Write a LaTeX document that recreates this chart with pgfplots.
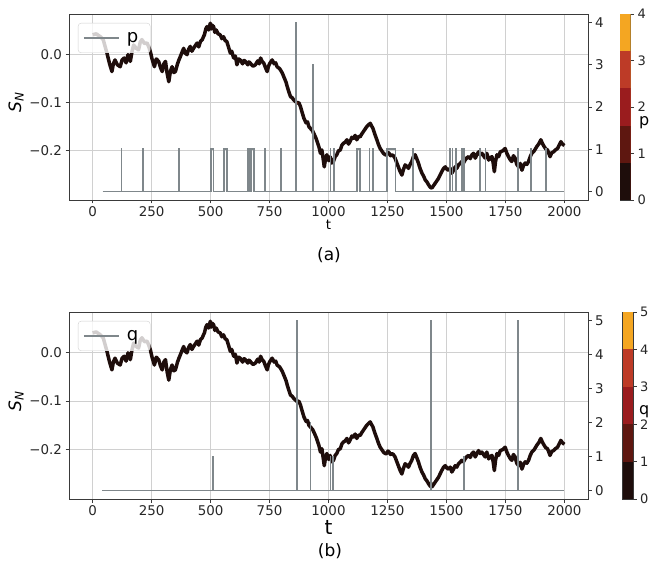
\documentclass[border=0pt]{standalone}
\usepackage{fontspec}
\setmainfont{DejaVu Sans}
\usepackage{pgfplots}
\usepackage{pgfplotstable}
\pgfplotsset{compat=1.18}

\definecolor{cA}{HTML}{1E0D0B}
\definecolor{cB}{HTML}{5E1710}
\definecolor{cC}{HTML}{9A1C1E}
\definecolor{cD}{HTML}{BD3B27}
\definecolor{cE}{HTML}{F4A622}
\definecolor{pgray}{HTML}{7F878B}
\definecolor{gridc}{HTML}{D0D0D0}
\definecolor{spine}{HTML}{3A3A3A}

\pgfplotstableread{
t s
0 0.040
15 0.042
33 0.036
45 0.030
61 0.002
72 -0.020
82 -0.036
88 -0.020
95 -0.012
105 -0.022
117 -0.026
125 -0.012
134 -0.008
142 -0.018
150 -0.001
160 -0.015
167 0.005
174 0.019
185 0.012
195 0.009
202 0.025
209 0.030
220 0.022
231 0.023
238 0.015
245 0.005
252 -0.010
262 -0.026
270 -0.010
280 -0.015
288 -0.028
295 -0.036
302 -0.020
309 -0.015
316 -0.040
323 -0.057
330 -0.035
337 -0.026
344 -0.038
351 -0.036
360 -0.020
366 -0.012
372 -0.005
380 0.005
386 0.012
393 0.002
400 -0.001
407 0.010
414 0.016
421 0.006
428 0.012
436 0.018
443 0.023
450 0.015
457 0.026
465 0.030
470 0.036
474 0.040
480 0.052
485 0.057
492 0.050
499 0.064
503 0.052
506 0.060
513 0.057
518 0.045
524 0.050
532 0.042
541 0.040
548 0.032
555 0.036
562 0.028
569 0.026
576 0.015
584 0.002
590 0.006
598 -0.008
605 -0.004
612 -0.022
619 -0.010
626 -0.012
636 -0.020
642 -0.013
648 -0.015
658 -0.022
663 -0.016
669 -0.019
680 -0.025
690 -0.022
700 -0.014
706 -0.020
712 -0.008
719 -0.015
726 -0.019
733 -0.028
740 -0.036
745 -0.026
750 -0.020
761 -0.012
770 -0.020
776 -0.018
782 -0.026
793 -0.030
798 -0.034
804 -0.039
815 -0.052
820 -0.058
825 -0.067
832 -0.078
839 -0.088
846 -0.090
853 -0.095
860 -0.098
867 -0.101
874 -0.100
881 -0.108
888 -0.120
896 -0.133
905 -0.142
911 -0.140
917 -0.150
926 -0.155
932 -0.158
938 -0.164
948 -0.175
959 -0.191
966 -0.205
972 -0.198
977 -0.215
982 -0.233
988 -0.215
993 -0.208
1000 -0.220
1007 -0.212
1014 -0.225
1021 -0.222
1028 -0.212
1035 -0.208
1042 -0.200
1050 -0.198
1057 -0.188
1064 -0.184
1071 -0.182
1078 -0.177
1085 -0.186
1092 -0.180
1099 -0.172
1106 -0.174
1113 -0.168
1120 -0.177
1127 -0.170
1134 -0.171
1141 -0.165
1148 -0.160
1155 -0.155
1162 -0.150
1170 -0.146
1177 -0.143
1182 -0.148
1188 -0.153
1196 -0.165
1205 -0.177
1212 -0.187
1219 -0.195
1226 -0.200
1233 -0.205
1240 -0.208
1247 -0.208
1252 -0.203
1257 -0.205
1263 -0.210
1268 -0.208
1275 -0.210
1282 -0.215
1289 -0.224
1296 -0.233
1303 -0.242
1311 -0.250
1318 -0.238
1325 -0.229
1332 -0.232
1339 -0.236
1346 -0.228
1353 -0.222
1360 -0.212
1367 -0.208
1374 -0.216
1381 -0.225
1388 -0.236
1396 -0.246
1403 -0.252
1410 -0.260
1417 -0.264
1424 -0.270
1431 -0.275
1438 -0.277
1445 -0.272
1452 -0.267
1459 -0.262
1466 -0.257
1473 -0.250
1480 -0.243
1488 -0.236
1495 -0.233
1502 -0.238
1509 -0.240
1516 -0.236
1523 -0.246
1530 -0.240
1537 -0.233
1544 -0.236
1551 -0.229
1558 -0.226
1565 -0.222
1572 -0.225
1579 -0.219
1587 -0.214
1594 -0.212
1601 -0.216
1608 -0.208
1615 -0.205
1622 -0.215
1629 -0.208
1636 -0.202
1643 -0.208
1650 -0.205
1657 -0.210
1664 -0.215
1671 -0.205
1679 -0.219
1686 -0.214
1693 -0.212
1698 -0.225
1703 -0.243
1708 -0.222
1714 -0.208
1721 -0.212
1728 -0.202
1738 -0.200
1749 -0.195
1756 -0.205
1763 -0.212
1770 -0.218
1777 -0.222
1784 -0.210
1791 -0.215
1798 -0.228
1806 -0.233
1813 -0.226
1820 -0.240
1827 -0.230
1834 -0.225
1841 -0.228
1848 -0.222
1855 -0.212
1862 -0.205
1872 -0.200
1883 -0.191
1892 -0.185
1900 -0.177
1907 -0.185
1914 -0.191
1921 -0.196
1928 -0.198
1934 -0.205
1939 -0.212
1946 -0.204
1954 -0.202
1962 -0.198
1971 -0.195
1978 -0.188
1985 -0.181
1992 -0.186
2000 -0.189
}\sdata

\pgfplotstableread{
t p
42 0
122 0
122 1
123 1
123 0
213 0
213 1
214 1
214 0
365 0
365 1
366 1
366 0
503 0
503 1
513 1
513 0
557 0
557 1
571 1
571 0
659 0
659 1
668 1
668 0
674 0
674 1
685 1
685 0
730 0
730 1
731 1
731 0
799 0
799 1
800 1
800 0
863 0
863 4
864 4
864 0
935 0
935 3
936 3
936 0
1008 0
1008 1
1009 1
1009 0
1022 0
1022 1
1023 1
1023 0
1120 0
1120 1
1134 1
1134 0
1173 0
1173 1
1174 1
1174 0
1187 0
1187 1
1188 1
1188 0
1247 0
1247 1
1284 1
1284 0
1357 0
1357 1
1358 1
1358 0
1514 0
1514 1
1515 1
1515 0
1525 0
1525 1
1526 1
1526 0
1539 0
1539 1
1540 1
1540 0
1564 0
1564 1
1565 1
1565 0
1574 0
1574 1
1575 1
1575 0
1643 0
1643 1
1644 1
1644 0
1665 0
1665 1
1666 1
1666 0
1803 0
1803 1
1804 1
1804 0
1858 0
1858 1
1859 1
1859 0
1920 0
1920 1
1921 1
1921 0
2000 0
}\pdata

\pgfplotstableread{
t q
41 0
510 0
510 1
511 1
511 0
866 0
866 5
867 5
867 0
923 0
923 2
924 2
924 0
1008 0
1008 1
1009 1
1009 0
1018 0
1018 1
1019 1
1019 0
1434 0
1434 5
1435 5
1435 0
1573 0
1573 1
1574 1
1574 0
1803 0
1803 5
1804 5
1804 0
2000 0
}\qdata

\pgfplotsset{
  mainax/.style={
    anchor=south west, scale only axis, width=519pt,
    xmin=-100, xmax=2100, ymin=-0.3015, ymax=0.083,
    xtick={0,250,...,2000},
    xticklabels={0,250,500,750,1000,1250,1500,1750,2000},
    ytick={-0.2,-0.1,0}, yticklabels={−0.2,−0.1,0.0},
    xtick pos=bottom, ytick pos=left, tick align=outside,
    major tick length=3.5pt,
    grid=major, grid style={gridc, line width=0.8pt},
    axis line style={spine, line width=0.8pt},
    tick style={spine, line width=0.8pt},
    ticklabel style={font=\fontsize{13.4}{14}\selectfont, text=black!85},
    ylabel={\textit{S}\textsubscript{\textit{N}}},
    ylabel style={anchor=center, font=\fontsize{17}{17}\selectfont},
  },
  rightax/.style={
    anchor=south west, scale only axis, width=519pt,
    xmin=-100, xmax=2100,
    axis y line*=right, axis x line=none,
    tick align=outside, major tick length=3.5pt,
    axis line style={spine, line width=0.8pt},
    tick style={spine, line width=0.8pt},
    ticklabel style={font=\fontsize{13.4}{14}\selectfont, text=black!85},
    legend style={anchor=north west, fill=white, fill opacity=0.8,
      draw opacity=1, text opacity=1, draw=gridc, rounded corners=3pt,
      font=\fontsize{18}{18}\selectfont, inner xsep=5pt, inner ysep=7pt,
      nodes={inner xsep=7pt, inner ysep=2pt}},
    legend image code/.code={\draw[#1] (0pt,0pt) -- (35pt,0pt);},
  },
  cbax/.style={
    anchor=south west, scale only axis, width=10.5pt,
    xmin=0, xmax=1, ymin=0, xtick=\empty,
    ytick pos=right, yticklabel pos=right, tick align=outside,
    major tick length=3.5pt,
    axis line style={spine, line width=0.6pt},
    tick style={spine, line width=0.8pt},
    ticklabel style={font=\fontsize{13}{14}\selectfont, text=black!85},
  },
}

\begin{document}
\begin{tikzpicture}
% ---------------- panel (a) ----------------
\begin{axis}[mainax, at={(69pt,378pt)}, height=186pt,
  ylabel style={at={(axis description cs:-0.102,0.527)}},
  xlabel={t}, xlabel style={at={(axis description cs:0.5,-0.134)}, anchor=center, font=\fontsize{13.4}{14}\selectfont}]
\addplot[cA, line width=3.5pt, line join=round] table[x=t,y=s]{\sdata};
\addplot[only marks, mark=*, mark size=1.4pt, draw=none, fill=cD] coordinates {(866,-0.101) (935,-0.163)};
\end{axis}
\begin{axis}[rightax, at={(69pt,378pt)}, height=186pt,
  ymin=-0.2, ymax=4.2, ytick={0,1,2,3,4}, yticklabels={0,1,2,3,4},
  legend style={at={(axis description cs:0.0173,0.9516)}}]
\addplot[pgray, line width=1.6pt] table[x=t,y=p]{\pdata};
\legend{p}
\end{axis}
\begin{axis}[cbax, at={(620pt,378pt)}, height=186pt, ymax=4,
  ytick={0,1,2,3,4}, yticklabels={0,1,2,3,4}]
\addplot[fill=cE, draw=none] coordinates {(0,4) (1,4)} \closedcycle;
\addplot[fill=cD, draw=none] coordinates {(0,3.2) (1,3.2)} \closedcycle;
\addplot[fill=cC, draw=none] coordinates {(0,2.4) (1,2.4)} \closedcycle;
\addplot[fill=cB, draw=none] coordinates {(0,1.6) (1,1.6)} \closedcycle;
\addplot[fill=cA, draw=none] coordinates {(0,0.8) (1,0.8)} \closedcycle;
\end{axis}
\node[font=\fontsize{16}{16}\selectfont, anchor=east, inner sep=0.5pt] at (650pt,455pt) {p};
\node[font=\fontsize{17}{17}\selectfont] at (329pt,323pt) {(a)};

% ---------------- panel (b) ----------------
\begin{axis}[mainax, at={(69pt,79pt)}, height=187pt,
  ylabel style={at={(axis description cs:-0.102,0.524)}},
  xlabel={t}, xlabel style={at={(axis description cs:0.5,-0.152)}, anchor=center, font=\fontsize{20}{20}\selectfont}]
\addplot[cA, line width=3.5pt, line join=round] table[x=t,y=s]{\sdata};
\addplot[only marks, mark=*, mark size=1.4pt, draw=none, fill=cE] coordinates {(866,-0.101) (1434,-0.268) (1803,-0.224)};
\end{axis}
\begin{axis}[rightax, at={(69pt,79pt)}, height=187pt,
  ymin=-0.25, ymax=5.25, ytick={0,1,2,3,4,5}, yticklabels={0,1,2,3,4,5},
  legend style={at={(axis description cs:0.0173,0.952)}}]
\addplot[pgray, line width=1.6pt] table[x=t,y=q]{\qdata};
\legend{q}
\end{axis}
\begin{axis}[cbax, at={(622.5pt,79pt)}, height=187pt, ymax=5,
  ytick={0,1,2,3,4,5}, yticklabels={0,1,2,3,4,5}]
\addplot[fill=cE, draw=none] coordinates {(0,5) (1,5)} \closedcycle;
\addplot[fill=cD, draw=none] coordinates {(0,4) (1,4)} \closedcycle;
\addplot[fill=cC, draw=none] coordinates {(0,3) (1,3)} \closedcycle;
\addplot[fill=cB, draw=none] coordinates {(0,2) (1,2)} \closedcycle;
\addplot[fill=cA, draw=none] coordinates {(0,1) (1,1)} \closedcycle;
\end{axis}
\node[font=\fontsize{16}{16}\selectfont, anchor=east, inner sep=0.5pt] at (650pt,166pt) {q};
\node[font=\fontsize{17}{17}\selectfont] at (330pt,27pt) {(b)};

\pgfresetboundingbox
\useasboundingbox (0,0) rectangle (650pt,578pt);
\end{tikzpicture}
\end{document}
